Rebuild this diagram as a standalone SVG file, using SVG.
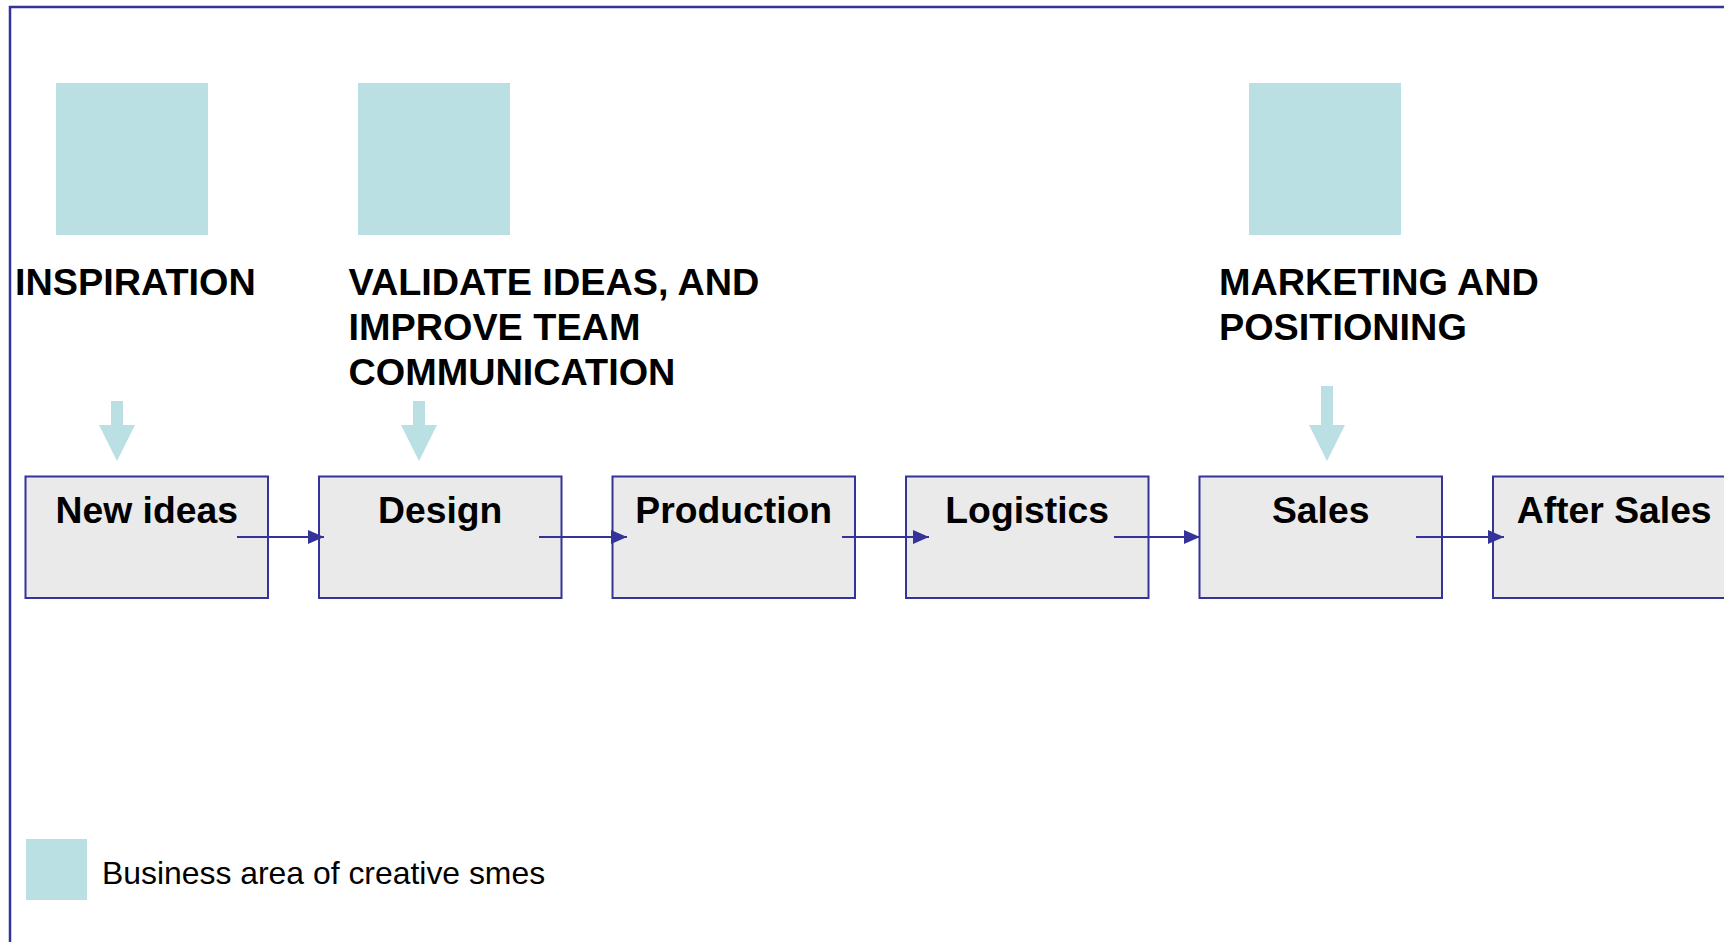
<svg xmlns="http://www.w3.org/2000/svg" width="1724" height="942" viewBox="0 0 1724 942">
<style>
.area{fill:#bbe0e3;}
.box{fill:#eaeaea;stroke:#333399;stroke-width:2;}
.lbl{font-family:"Liberation Sans",Arial,sans-serif;font-weight:bold;font-size:37.3px;fill:#000;}
.head{font-family:"Liberation Sans",Arial,sans-serif;font-weight:bold;font-size:37.8px;fill:#000;}
.leg{font-family:"Liberation Sans",Arial,sans-serif;font-size:31.9px;fill:#000;}
.conn{stroke:#333399;stroke-width:2;fill:none;marker-end:url(#ah);}
</style>
<defs>
<marker id="ah" markerUnits="userSpaceOnUse" markerWidth="16" markerHeight="14" refX="16" refY="7" orient="auto">
<path d="M0,0 L16,7 L0,14 Z" fill="#333399"/>
</marker>
</defs>
<rect width="1724" height="942" fill="#fff"/>
<path d="M10,942 V7 H1724" fill="none" stroke="#333399" stroke-width="2.5"/>

<g id="inspiration">
<rect class="area" x="56" y="83" width="152" height="152"/>
<text class="head" x="15" y="295">INSPIRATION</text>
<path class="area" d="M111,401 H123 V425 H135 L117,461 L99,425 H111 Z"/>
</g>
<g id="validate">
<rect class="area" x="358" y="83" width="152" height="152"/>
<text class="head" x="348.5" y="295">VALIDATE IDEAS, AND</text>
<text class="head" x="348.5" y="340">IMPROVE TEAM</text>
<text class="head" x="348.5" y="385">COMMUNICATION</text>
<path class="area" d="M413,401 H425 V425 H437 L419,461 L401,425 H413 Z"/>
</g>
<g id="marketing">
<rect class="area" x="1249" y="83" width="152" height="152"/>
<text class="head" x="1219" y="295">MARKETING AND</text>
<text class="head" x="1219" y="340">POSITIONING</text>
<path class="area" d="M1321,386 H1333 V425 H1345 L1327,461 L1309,425 H1321 Z"/>
</g>

<g id="new-ideas">
<rect class="box" x="25.5" y="476.5" width="242.5" height="121.5"/>
<text class="lbl" x="146.7" y="523" text-anchor="middle">New ideas</text>
</g>
<g id="design">
<rect class="box" x="319" y="476.5" width="242.5" height="121.5"/>
<text class="lbl" x="440.2" y="523" text-anchor="middle">Design</text>
</g>
<g id="production">
<rect class="box" x="612.5" y="476.5" width="242.5" height="121.5"/>
<text class="lbl" x="733.7" y="523" text-anchor="middle">Production</text>
</g>
<g id="logistics">
<rect class="box" x="906" y="476.5" width="242.5" height="121.5"/>
<text class="lbl" x="1027.2" y="523" text-anchor="middle">Logistics</text>
</g>
<g id="sales">
<rect class="box" x="1199.5" y="476.5" width="242.5" height="121.5"/>
<text class="lbl" x="1320.7" y="523" text-anchor="middle">Sales</text>
</g>
<g id="after-sales">
<rect class="box" x="1493" y="476.5" width="242.5" height="121.5"/>
<text class="lbl" x="1614.2" y="523" text-anchor="middle">After Sales</text>
</g>

<g id="connectors">
<line class="conn" x1="237" y1="537" x2="324" y2="537"/>
<line class="conn" x1="539" y1="537" x2="627" y2="537"/>
<line class="conn" x1="842" y1="537" x2="929" y2="537"/>
<line class="conn" x1="1114" y1="537" x2="1200" y2="537"/>
<line class="conn" x1="1416" y1="537" x2="1504" y2="537"/>
</g>

<g id="legend">
<rect class="area" x="26" y="839" width="61" height="61"/>
<text class="leg" x="102" y="884">Business area of creative smes</text>
</g>
</svg>
